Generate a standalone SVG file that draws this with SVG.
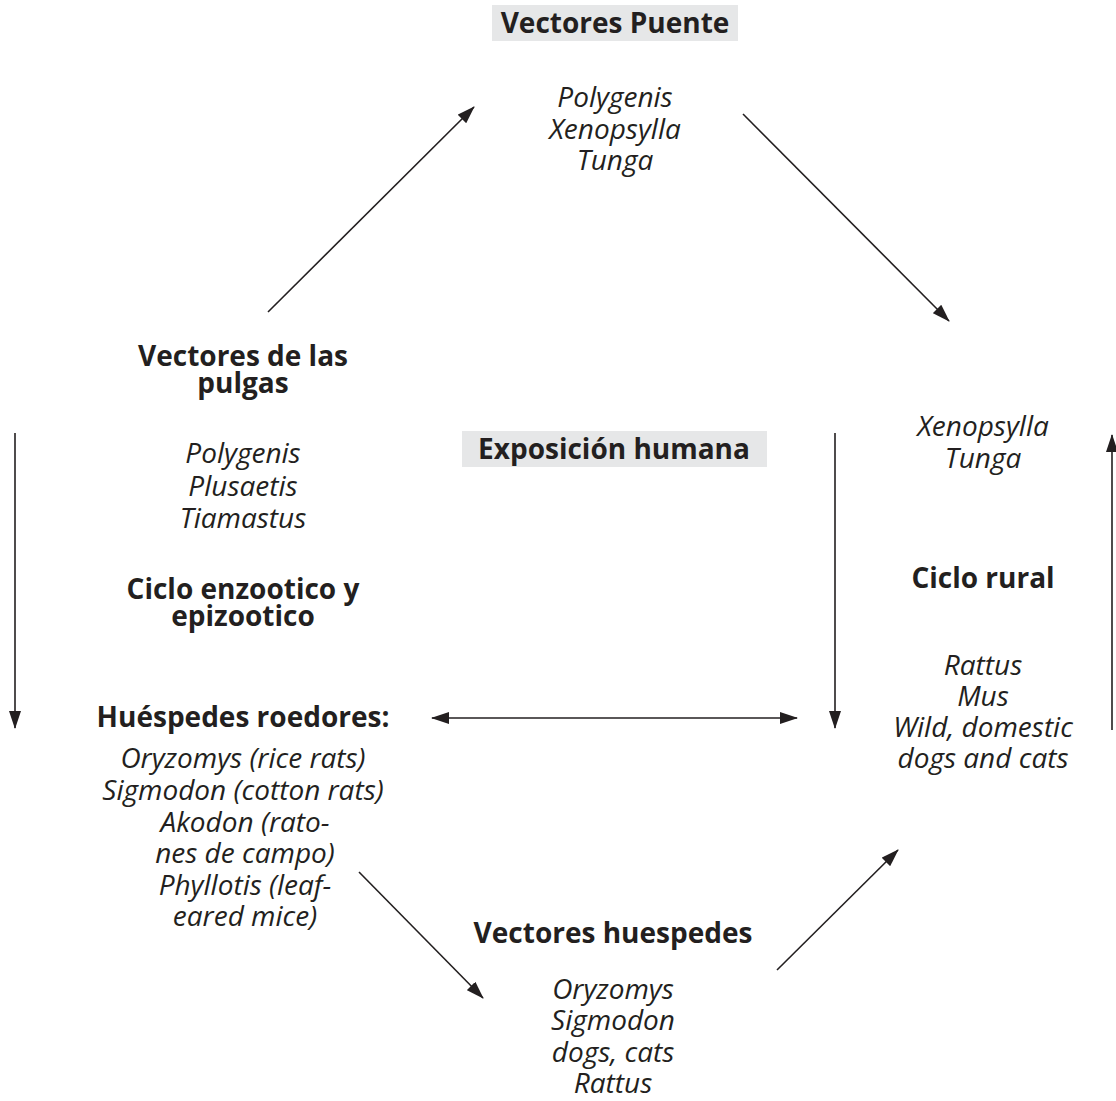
<svg xmlns="http://www.w3.org/2000/svg" width="1116" height="1101" viewBox="0 0 1116 1101">
<defs>
<style>
text{font-family:"Open Sans","Noto Sans","DejaVu Sans",sans-serif;font-size:28px;fill:#231f20;text-anchor:middle}
.b{font-weight:bold}
.i{font-style:italic}
.box{fill:#e6e7e8}
.c{stroke:#231f20;stroke-width:1.6;fill:none}
</style>
<marker id="ah" viewBox="0 0 18 12" refX="17" refY="6" markerWidth="18" markerHeight="12" markerUnits="userSpaceOnUse" orient="auto-start-reverse">
<path d="M0,0 L18,6 L0,12 Z" fill="#231f20"/>
</marker>
</defs>
<rect width="1116" height="1101" fill="#ffffff"/>
<g id="connectors">
<line class="c" x1="268" y1="312" x2="474" y2="107" marker-end="url(#ah)"/>
<line class="c" x1="743" y1="114" x2="949" y2="321" marker-end="url(#ah)"/>
<line class="c" x1="15" y1="433" x2="15" y2="728" marker-end="url(#ah)"/>
<line class="c" x1="835" y1="433" x2="835" y2="728" marker-end="url(#ah)"/>
<line class="c" x1="1112" y1="730" x2="1112" y2="435" marker-end="url(#ah)"/>
<line class="c" x1="432" y1="718" x2="797" y2="718" marker-start="url(#ah)" marker-end="url(#ah)"/>
<line class="c" x1="359" y1="872" x2="483" y2="998" marker-end="url(#ah)"/>
<line class="c" x1="777" y1="970" x2="898" y2="850" marker-end="url(#ah)"/>
</g>
<g id="vectores-puente">
<rect class="box" x="492" y="5" width="246" height="36"/>
<text class="b" x="615" y="33">Vectores Puente</text>
<text class="i" x="615" y="107">Polygenis</text>
<text class="i" x="615" y="139">Xenopsylla</text>
<text class="i" x="615" y="170">Tunga</text>
</g>
<g id="vectores-pulgas">
<text class="b" x="243" y="366">Vectores de las</text>
<text class="b" x="243" y="393">pulgas</text>
<text class="i" x="243" y="463">Polygenis</text>
<text class="i" x="243" y="496">Plusaetis</text>
<text class="i" x="243" y="528">Tiamastus</text>
<text class="b" x="243" y="599">Ciclo enzootico y</text>
<text class="b" x="243" y="626">epizootico</text>
</g>
<g id="huespedes-roedores">
<text class="b" x="243" y="727">Huéspedes roedores:</text>
<text class="i" x="243" y="768">Oryzomys (rice rats)</text>
<text class="i" x="243" y="800">Sigmodon (cotton rats)</text>
<text class="i" x="245" y="832">Akodon (rato-</text>
<text class="i" x="245" y="863">nes de campo)</text>
<text class="i" x="245" y="895">Phyllotis (leaf-</text>
<text class="i" x="245" y="926">eared mice)</text>
</g>
<g id="exposicion-humana">
<rect class="box" x="462" y="431" width="305" height="36"/>
<text class="b" x="614" y="459">Exposición humana</text>
</g>
<g id="ciclo-rural">
<text class="i" x="983" y="436">Xenopsylla</text>
<text class="i" x="983" y="468">Tunga</text>
<text class="b" x="983" y="588">Ciclo rural</text>
<text class="i" x="983" y="675">Rattus</text>
<text class="i" x="983" y="706">Mus</text>
<text class="i" x="983" y="737">Wild, domestic</text>
<text class="i" x="983" y="768">dogs and cats</text>
</g>
<g id="vectores-huespedes">
<text class="b" x="613" y="943">Vectores huespedes</text>
<text class="i" x="613" y="999">Oryzomys</text>
<text class="i" x="613" y="1030">Sigmodon</text>
<text class="i" x="613" y="1062">dogs, cats</text>
<text class="i" x="613" y="1093">Rattus</text>
</g>
</svg>
